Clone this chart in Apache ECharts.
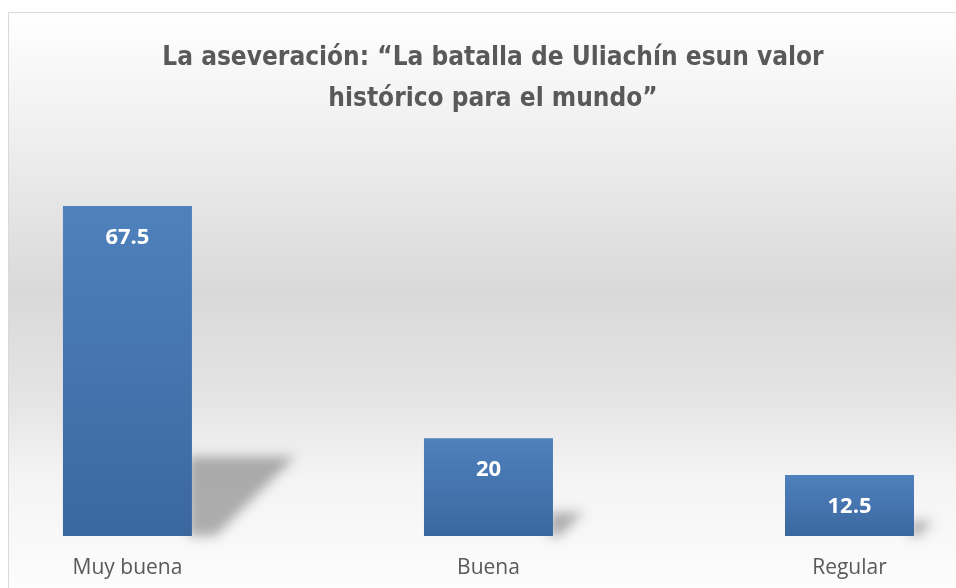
<!DOCTYPE html>
<html>
<head>
<meta charset="utf-8">
<script src="https://cdn.jsdelivr.net/npm/echarts@6/dist/echarts.min.js"></script>
<style>
  html, body { margin: 0; padding: 0; background: #fff; }
  #chart { width: 956px; height: 588px; }
</style>
</head>
<body>
<div id="chart"></div>
<script>
// datos del gráfico
const categories = ['Muy buena', 'Buena', 'Regular']
const values = [67.5, 20, 12.5]
const titleText = 'La aseveración: “La batalla de Uliachín esun valor\nhistórico para el mundo”'

const BAR_W = 129
const OFF = 3000 // la forma se dibuja fuera de pantalla, solo se ve su sombra difuminada

const myChart = echarts.init(document.getElementById('chart'))
myChart.setOption({
  animation: false,
  backgroundColor: '#ffffff',
  graphic: [
    {
      type: 'rect',
      z: -10,
      silent: true,
      shape: { x: 8.5, y: 12.5, width: 980, height: 620 },
      style: {
        stroke: '#d9d9d9',
        lineWidth: 1,
        fill: {
          type: 'linear',
          x: 0, y: 0, x2: 0, y2: 1,
          colorStops: [
            { offset: 0, color: '#ffffff' },
            { offset: 0.2, color: '#efefef' },
            { offset: 0.45, color: '#d9d9d9' },
            { offset: 0.62, color: '#e4e4e4' },
            { offset: 0.75, color: '#f4f4f4' },
            { offset: 0.92, color: '#fcfcfc' },
            { offset: 1, color: '#ffffff' },
          ],
        },
      },
    },
  ],
  title: {
    text: titleText,
    left: 488,
    textAlign: 'center',
    top: 33,
    textStyle: {
      fontFamily: "'DejaVu Sans Condensed', sans-serif",
      fontWeight: 'bold',
      fontSize: 26,
      lineHeight: 41,
      color: '#595959',
    },
  },
  grid: {
    left: 0,
    right: 0,
    top: 193.7,
    bottom: 52,
  },
  xAxis: {
    type: 'value',
    // centros de barra en 127.5, 488, 849 px
    min: -0.353,
    max: 2.295,
    splitLine: { show: false },
    axisLine: { show: false },
    axisTick: { show: false },
    axisLabel: {
      customValues: [0, 1, 2],
      formatter: (v) => categories[Math.round(v)] || '',
      margin: 22,
      fontFamily: "'Open Sans', sans-serif",
      fontSize: 21,
      color: '#595959',
    },
  },
  yAxis: {
    type: 'value',
    min: 0,
    max: 70,
    show: false,
    splitLine: { show: false },
  },
  series: [
    {
      // sombra proyectada
      type: 'custom',
      z: 1,
      silent: true,
      clip: false,
      data: values.map((v, i) => [i, v]),
      renderItem(params, api) {
        const base = api.coord([api.value(0), 0])
        const top = api.coord([api.value(0), api.value(1)])
        const h = (base[1] - top[1]) * 0.24
        const x = base[0] + BAR_W / 2 - OFF
        return {
          type: 'polygon',
          shape: {
            points: [
              [x - 4, base[1]],
              [x - 4, base[1] - h],
              [x + h * 1.3, base[1] - h],
              [x + h * 0.3, base[1]],
            ],
          },
          style: {
            fill: '#000',
            shadowBlur: 12,
            shadowOffsetX: OFF,
            shadowColor: 'rgba(0,0,0,0.3)',
          },
        }
      },
    },
    {
      type: 'bar',
      z: 2,
      data: values.map((v, i) => [i, v]),
      barWidth: BAR_W,
      itemStyle: {
        color: {
          type: 'linear',
          x: 0, y: 0, x2: 0, y2: 1,
          colorStops: [
            { offset: 0, color: '#4f81bd' },
            { offset: 1, color: '#3b679f' },
          ],
        },
      },
      label: {
        show: true,
        position: 'insideTop',
        distance: 21,
        formatter: (p) => p.value[1],
        fontFamily: "'Open Sans', sans-serif",
        fontWeight: 'bold',
        fontSize: 22,
        color: '#ffffff',
      },
    },
  ],
})
</script>
</body>
</html>
